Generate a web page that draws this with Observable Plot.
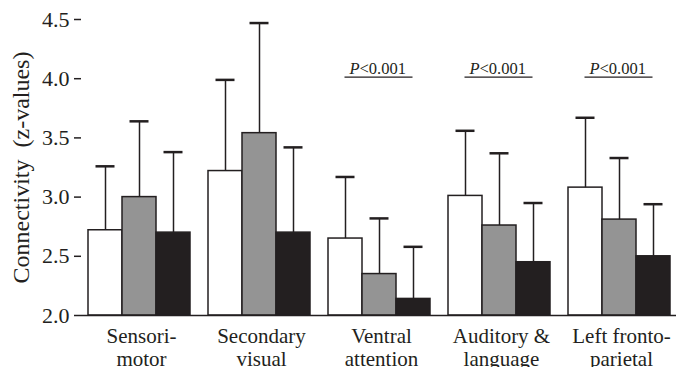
<!DOCTYPE html>
<html>
<head>
<meta charset="utf-8">
<script src="https://cdn.jsdelivr.net/npm/d3@7"></script>
<script src="https://cdn.jsdelivr.net/npm/@observablehq/plot@0.6"></script>
<style>
  html, body { margin: 0; padding: 0; background: #fff; }
  #chart { width: 676px; height: 367px; overflow: hidden; }
  #chart svg, #chart svg text, #chart svg tspan { font-family: "Liberation Serif", "Times New Roman", serif !important; font-variant: normal !important; }
</style>
</head>
<body>
<div id="chart"></div>
<script>
// ---- data ----
const groups = ["Sensorimotor", "Secondary visual", "Ventral attention", "Auditory & language", "Left frontoparietal"];
const groupLabels = ["Sensori-\nmotor", "Secondary\nvisual", "Ventral\nattention", "Auditory &\nlanguage", "Left fronto-\nparietal"];
const series = ["Series 1", "Series 2", "Series 3"];
const seriesFills = ["#ffffff", "#949494", "#231f20"];
const means1 = [2.72, 3.22, 2.65, 3.01, 3.08];
const means2 = [3.00, 3.54, 2.35, 2.76, 2.81];
const means3 = [2.70, 2.70, 2.14, 2.45, 2.50];
const upper1 = [3.26, 3.99, 3.17, 3.56, 3.67];
const upper2 = [3.64, 4.47, 2.82, 3.37, 3.33];
const upper3 = [3.38, 3.42, 2.58, 2.95, 2.94];
const yTicks = [2.0, 2.5, 3.0, 3.5, 4.0, 4.5];
const yLabel = "Connectivity  (z-values)";
const sigGroups = ["Ventral attention", "Auditory & language", "Left frontoparietal"];
const sigText = "<0.001";
const sigY = 4.04;      // annotation height in data units
const sigLineY = 4.013;

const means = [means1, means2, means3];
const uppers = [upper1, upper2, upper3];
const rows = [];
groups.forEach((g, i) => series.forEach((s, j) => rows.push({group: g, series: s, mean: means[j][i], upper: uppers[j][i]})));
const sig = sigGroups.map(g => ({group: g}));

const ink = "#231f20";
const font = "Liberation Serif";

const plot = Plot.plot({
  width: 676,
  height: 367,
  marginTop: 19,
  marginBottom: 52,
  marginLeft: 80,
  marginRight: -6.5,
  style: {fontFamily: font, color: ink, background: "#fff"},
  fx: {domain: groups, paddingInner: 0, paddingOuter: 0, label: null},
  x: {domain: series, paddingInner: 0, paddingOuter: 0.255, align: 0.4, axis: null},
  y: {domain: [2, 4.5], label: null},
  color: {domain: series, range: seriesFills},
  marks: [
    Plot.barY(rows, {fx: "group", x: "series", y1: 2, y2: "mean", fill: "series", stroke: ink, strokeWidth: 1.5}),
    Plot.ruleX(rows, {fx: "group", x: "series", y1: "mean", y2: "upper", stroke: ink, strokeWidth: 1.5}),
    Plot.tickY(rows, {fx: "group", x: "series", y: "upper", stroke: ink, strokeWidth: 2.5, insetLeft: 7.5, insetRight: 7.5}),
    Plot.ruleY([2], {stroke: ink, strokeWidth: 1.5}),
    Plot.text(sig, {fx: "group", x: () => series[1], y: sigY, text: () => "P", fontStyle: "italic", textAnchor: "start", lineAnchor: "bottom", dx: -30, fontSize: 16.5, fill: ink, fontFamily: font}),
    Plot.text(sig, {fx: "group", x: () => series[1], y: sigY, text: () => sigText, textAnchor: "end", lineAnchor: "bottom", dx: 26.5, fontSize: 16.5, fill: ink, fontFamily: font}),
    Plot.link(sig, {fx: "group", x1: () => series[0], x2: () => series[2], y1: sigLineY, y2: sigLineY, dx: -1, stroke: ink, strokeWidth: 1.2}),
    Plot.text([yLabel], {fx: () => groups[0], frameAnchor: "left", textAnchor: "middle", lineAnchor: "top", text: d => d, rotate: -90, dx: -70, fontSize: 24, fill: ink, fontFamily: font}),
    Plot.axisY({ticks: yTicks, tickFormat: d3.format(".1f"), tickSize: 7, tickPadding: 5, fontSize: 22, line: true, stroke: ink, strokeWidth: 1.5, label: null, fontFamily: font}),
    Plot.axisFx({anchor: "bottom", tickSize: 0, tickPadding: 10, fontSize: 21, lineHeight: 1.14, label: null, fontFamily: font,
      tickFormat: d => groupLabels[groups.indexOf(d)]})
  ]
});
plot.querySelectorAll("text, tspan, g").forEach(el => {
  if (el.hasAttribute("font-family") || el.tagName !== "g") {
    el.setAttribute("font-family", font);
    el.style.setProperty("font-family", "'Liberation Serif', serif", "important");
  }
});
document.getElementById("chart").appendChild(plot);
</script>
</body>
</html>
